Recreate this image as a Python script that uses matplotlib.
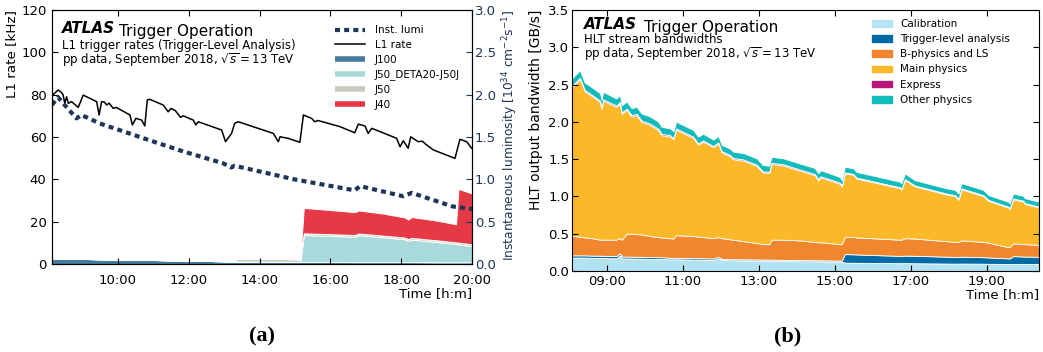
import matplotlib
matplotlib.use("Agg")
import matplotlib.pyplot as plt
from matplotlib.lines import Line2D
from matplotlib.patches import Patch
from matplotlib.ticker import FuncFormatter, MultipleLocator

# ---- panel (a): L1 trigger rates ----
l1_time = [8.14, 8.17, 8.31, 8.41, 8.45, 8.50, 8.55, 8.60, 8.69, 8.88,
           9.02, 9.40, 9.47, 9.54, 9.62, 9.68, 9.75, 9.87, 9.95, 10.34,
           10.41, 10.51, 10.67, 10.76, 10.83, 10.90, 11.28, 11.42, 11.50, 11.62,
           11.77, 11.85, 12.05, 12.13, 12.20, 12.27, 12.93, 13.04, 13.21, 13.30,
           13.40, 14.39, 14.53, 14.58, 14.80, 15.14, 15.24, 15.47, 15.56, 15.65,
           16.27, 16.69, 16.79, 16.98, 17.07, 17.17, 17.87, 17.97, 18.06, 18.20,
           18.27, 18.48, 18.60, 18.70, 18.91, 19.52, 19.66, 19.85, 19.99]
l1_rate = [79.0, 80.0, 82.2, 81.0, 80.0, 75.9, 79.0, 75.9, 76.7, 74.0,
           79.8, 76.7, 70.4, 76.7, 76.5, 75.1, 76.0, 73.5, 74.0, 70.4,
           65.7, 68.8, 68.0, 65.2, 77.5, 77.8, 75.1, 71.9, 73.5, 72.5,
           69.3, 70.0, 68.5, 68.0, 65.7, 67.2, 63.3, 57.8, 61.7, 66.5,
           67.2, 61.7, 57.8, 60.1, 59.4, 57.5, 70.4, 68.8, 67.2, 67.8,
           64.9, 62.0, 66.1, 65.2, 61.7, 64.1, 59.4, 55.4, 58.2, 54.7,
           60.1, 57.8, 58.0, 56.5, 53.9, 49.9, 58.9, 57.8, 54.7]

lumi_time = [8.14, 8.31, 8.45, 8.83, 8.97, 9.49, 10.34, 10.90, 11.84, 12.97,
             13.20, 13.30, 14.98, 16.69, 16.84, 18.06, 18.30, 19.45, 20.0]
lumi = [1.88, 1.97, 1.90, 1.72, 1.76, 1.66, 1.54, 1.46, 1.33, 1.19,
        1.14, 1.16, 1.00, 0.87, 0.92, 0.80, 0.84, 0.68, 0.65]

stack_time = [8.14, 9.0, 10.0, 11.0, 12.0, 13.0, 13.30, 13.35, 14.5, 15.15, 15.25,
              16.0, 16.7, 16.8, 17.5, 18.1, 18.2, 18.3, 19.0, 19.55, 19.62, 20.0]
j100 = [2.7, 2.4, 2.1, 1.9, 1.6, 1.3, 1.2, 1.2, 1.1, 1.0, 1.0,
        1.0, 0.9, 0.9, 0.9, 0.9, 0.9, 0.9, 0.8, 0.8, 0.8, 0.8]
j50_deta = [0, 0, 0, 0, 0, 0, 0, 0, 0, 0, 12.7,
            12.3, 12.0, 12.7, 11.7, 10.8, 10.1, 10.6, 9.6, 8.6, 8.5, 7.7]
j50 = [0, 0, 0, 0, 0, 0, 0, 1.3, 1.3, 1.2, 0.8,
       0.8, 0.8, 0.8, 0.8, 0.8, 0.8, 0.8, 0.8, 0.8, 0.8, 0.8]
j40 = [0, 0, 0, 0, 0, 0, 0, 0, 0, 0, 12.0,
       11.4, 10.8, 10.9, 10.4, 9.5, 9.2, 9.9, 9.3, 8.6, 25.4, 24.0]

# ---- panel (b): HLT stream bandwidths ----
hlt_time = [8.08, 8.29, 8.42, 8.55, 8.82, 8.86, 8.90, 9.25, 9.34, 9.39,
            9.52, 9.65, 9.78, 9.91, 10.13, 10.35, 10.44, 10.66, 10.75, 10.82,
            11.27, 11.40, 11.53, 11.80, 11.93, 12.02, 12.24, 12.32, 12.59, 12.94,
            13.10, 13.27, 13.33, 13.64, 14.08, 14.47, 14.56, 14.62, 14.74, 15.13,
            15.18, 15.26, 15.48, 15.57, 16.71, 16.75, 16.84, 17.10, 17.94, 18.16,
            18.25, 18.33, 18.90, 19.04, 19.56, 19.60, 19.69, 19.96, 19.99, 20.37]
calibration = [.180, .180, .180, .177, .175, .175, .174, .170, .210, .170,
               .168, .167, .166, .165, .163, .160, .160, .157, .157, .158,
               .153, .152, .151, .148, .170, .147, .145, .144, .142, .140,
               .139, .138, .138, .135, .132, .130, .129, .129, .128, .125,
               .125, .112, .111, .110, .105, .105, .106, .104, .100, .099,
               .099, .100, .098, .097, .094, .094, .095, .094, .094, .093]
tla = [.030, .030, .030, .030, .030, .030, .030, .030, .030, .025,
       .025, .025, .025, .025, .025, .025, .025, .020, .020, .020,
       .020, .020, .020, .020, .020, .015, .015, .015, .015, .015,
       .015, .015, .015, .015, .015, .015, .015, .015, .015, .015,
       .015, .115, .113, .112, .098, .098, .100, .100, .092, .090,
       .090, .092, .087, .085, .075, .075, .105, .100, .100, .097]
bphys = [.260, .250, .240, .238, .215, .215, .216, .220, .200, .225,
         .307, .308, .304, .300, .282, .270, .265, .263, .258, .302,
         .297, .288, .284, .272, .265, .278, .265, .261, .243, .220,
         .206, .207, .267, .270, .263, .245, .241, .241, .237, .220,
         .220, .233, .231, .228, .217, .217, .234, .231, .208, .201,
         .201, .218, .205, .198, .151, .151, .170, .166, .166, .160]
main = [1.995, 2.115, 1.955, 1.920, 1.845, 1.755, 1.865, 1.780, 1.810, 1.690,
        1.660, 1.570, 1.595, 1.510, 1.490, 1.435, 1.370, 1.365, 1.330, 1.415,
        1.315, 1.235, 1.280, 1.220, 1.255, 1.150, 1.115, 1.080, 1.080, 1.035,
        0.960, 0.955, 1.015, 0.995, 0.935, 0.895, 0.830, 0.870, 0.855, 0.810,
        0.770, 0.850, 0.835, 0.790, 0.690, 0.670, 0.780, 0.700, 0.625, 0.615,
        0.565, 0.685, 0.615, 0.560, 0.530, 0.510, 0.590, 0.570, 0.540, 0.500]
express = [.018, .018, .018, .018, .018, .018, .018, .018, .018, .018,
           .018, .018, .018, .018, .018, .018, .018, .018, .018, .018,
           .016, .016, .016, .016, .016, .016, .016, .016, .016, .016,
           .016, .016, .016, .016, .016, .016, .016, .016, .016, .016,
           .013, .013, .013, .013, .013, .013, .013, .013, .013, .013,
           .013, .013, .013, .013, .013, .013, .013, .013, .013, .013]
other = [.100, .100, .100, .100, .100, .100, .100, .095, .095, .095,
         .095, .095, .095, .095, .095, .095, .095, .090, .090, .090,
         .090, .090, .090, .085, .085, .085, .085, .085, .085, .085,
         .085, .080, .080, .080, .080, .080, .080, .080, .080, .075,
         .075, .075, .075, .075, .075, .075, .075, .070, .070, .070,
         .070, .070, .070, .065, .065, .065, .065, .065, .065, .065]

left_colors = ["#457b9d", "#a8dadc", "#c5cbbf", "#e63946"]
left_labels = ["J100", "J50_DETA20-J50J", "J50", "J40"]
lumi_color = "#1d3557"
hlt_colors = ["#b3e2f2", "#006ba4", "#f0862e", "#fbb829", "#b5177a", "#14bbbb"]
hlt_labels = ["Calibration", "Trigger-level analysis", "B-physics and LS",
              "Main physics", "Express", "Other physics"]

plt.rcParams["font.family"] = "DejaVu Sans"
plt.rcParams["mathtext.fontset"] = "dejavusans"


def hm(v, pos):
    return "%02d:%02d" % (int(v), int(round((v % 1) * 60)))


fig = plt.figure(figsize=(10.43, 3.52), dpi=100)

# ---------------- (a) ----------------
ax = fig.add_axes([0.0499, 0.25, 0.4026, 0.7216])
ax.stackplot(stack_time, j100, j50_deta, j50, j40, colors=left_colors,
             edgecolor="white", linewidth=0.7)
ax.plot(l1_time, l1_rate, color="black", lw=1.1)
ax.set_xlim(8.14, 20.0)
ax.set_ylim(0, 120)
ax.xaxis.set_major_locator(MultipleLocator(2))
ax.xaxis.set_major_formatter(FuncFormatter(hm))
ax.yaxis.set_major_locator(MultipleLocator(20))
ax.tick_params(direction="in", top=True, right=False, length=4, labelsize=9.5)
ax.tick_params(axis="x", pad=7)
ax.tick_params(axis="y", pad=4)
ax.set_ylabel("L1 rate [kHz]", fontsize=10, labelpad=2, loc="top")

ax2 = ax.twinx()
ax2.plot(lumi_time, lumi, color=lumi_color, lw=3, dashes=(1.2, 1.0))
ax2.set_ylim(0, 3.0)
ax2.yaxis.set_major_locator(MultipleLocator(0.5))
ax2.yaxis.set_major_formatter(FuncFormatter(lambda v, p: "%.1f" % v))
ax2.tick_params(direction="in", length=4, labelsize=9.5, colors=lumi_color, pad=2)
ax2.set_ylabel(r"Instantaneous luminosity [10$^{34}$ cm$^{-2}$s$^{-1}$]",
               fontsize=9, color=lumi_color, labelpad=3, loc="top")

ax.text(1.0, -0.118, "Time [h:m]", transform=ax.transAxes, ha="right",
        va="center", fontsize=9.5)
t1 = ax.text(0.023, 0.909, "ATLAS", transform=ax.transAxes, fontsize=11,
             fontweight="bold", style="italic")
ax.annotate("Trigger Operation", xy=(1, 0), xycoords=t1, xytext=(3, 0),
            textcoords="offset points", fontsize=11)
ax.text(0.023, 0.846, "L1 trigger rates (Trigger-Level Analysis)",
        transform=ax.transAxes, fontsize=8.5)
ax.text(0.023, 0.787, r"pp data, September 2018, $\sqrt{s}=13$ TeV",
        transform=ax.transAxes, fontsize=8.5)

handles = [Line2D([], [], color=lumi_color, lw=3, dashes=(1.2, 1.0)),
           Line2D([], [], color="black", lw=1.1)]
handles += [Line2D([], [], color=c, lw=4, solid_capstyle="butt") for c in left_colors]
ax.legend(handles, ["Inst. lumi", "L1 rate"] + left_labels, loc="upper left",
          bbox_to_anchor=(0.674, 0.94), frameon=False, fontsize=7.5,
          handlelength=2.9, handletextpad=0.9, labelspacing=0.45, borderpad=0,
          borderaxespad=0)

# ---------------- (b) ----------------
bx = fig.add_axes([0.5484, 0.2301, 0.4478, 0.7415])
bx.stackplot(hlt_time, calibration, tla, bphys, main, express, other,
             colors=hlt_colors, edgecolor="white", linewidth=0.6)
bx.set_xlim(8.08, 20.37)
bx.set_ylim(0, 3.5)
bx.set_xticks([9, 11, 13, 15, 17, 19])
bx.xaxis.set_major_formatter(FuncFormatter(hm))
bx.yaxis.set_major_locator(MultipleLocator(0.5))
bx.tick_params(direction="in", top=True, right=True, length=4, labelsize=9.5)
bx.tick_params(axis="x", pad=3)
bx.tick_params(axis="y", pad=2)
bx.set_ylabel("HLT output bandwidth [GB/s]", fontsize=10, labelpad=4, loc="top")
bx.text(1.0, -0.092, "Time [h:m]", transform=bx.transAxes, ha="right",
        va="center", fontsize=9.5)
t2 = bx.text(0.0257, 0.927, "ATLAS", transform=bx.transAxes, fontsize=11,
             fontweight="bold", style="italic")
bx.annotate("Trigger Operation", xy=(1, 0), xycoords=t2, xytext=(5, 0),
            textcoords="offset points", fontsize=11)
bx.text(0.0257, 0.874, "HLT stream bandwidths", transform=bx.transAxes, fontsize=8.5)
bx.text(0.0257, 0.816, r"pp data, September 2018, $\sqrt{s}=13$ TeV",
        transform=bx.transAxes, fontsize=8.5)
bx.legend([Patch(color=c) for c in hlt_colors], hlt_labels, loc="upper left",
          bbox_to_anchor=(0.642, 0.966), frameon=False, fontsize=7.5,
          handlelength=1.9, handleheight=0.6, handletextpad=0.85,
          labelspacing=0.5, borderpad=0, borderaxespad=0)

fig.text(0.251, 0.043, "(a)", ha="center", va="center", fontsize=16,
         fontweight="bold", family="Liberation Serif")
fig.text(0.755, 0.043, "(b)", ha="center", va="center", fontsize=16,
         fontweight="bold", family="Liberation Serif")

# scale the axis labels to the lengths they have in the original
fig.canvas.draw()
rend = fig.canvas.get_renderer()
for lab, target in [(ax.yaxis.label, 88), (ax2.yaxis.label, 252), (bx.yaxis.label, 200)]:
    h = lab.get_window_extent(rend).height
    lab.set_fontsize(lab.get_fontsize() * target / h)

fig.savefig("out.png", dpi=100)
